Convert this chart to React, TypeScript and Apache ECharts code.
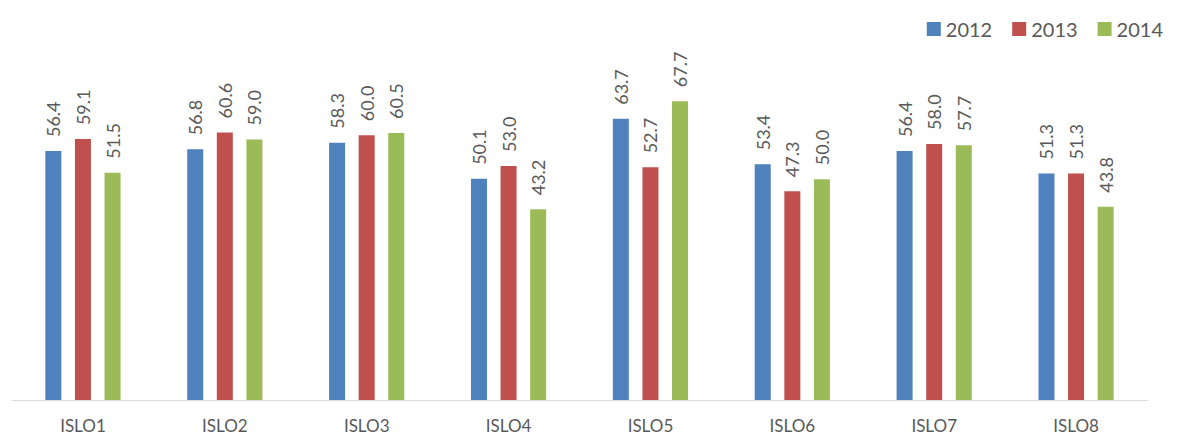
import React, { useEffect, useRef } from "react";
import * as echarts from "echarts";

const categories = ["ISLO1", "ISLO2", "ISLO3", "ISLO4", "ISLO5", "ISLO6", "ISLO7", "ISLO8"];
const seriesNames = ["2012", "2013", "2014"];
const values2012 = [56.4, 56.8, 58.3, 50.1, 63.7, 53.4, 56.4, 51.3];
const values2013 = [59.1, 60.6, 60.0, 53.0, 52.7, 47.3, 58.0, 51.3];
const values2014 = [51.5, 59.0, 60.5, 43.2, 67.7, 50.0, 57.7, 43.8];
const colors = ["#4F81BD", "#C0504D", "#9BBB59"];

const FONT = "Lato, 'Open Sans', sans-serif";

export default function App() {
  const ref = useRef<HTMLDivElement>(null);
  useEffect(() => {
    if (!ref.current) return;
    const chart = echarts.init(ref.current, undefined, { renderer: "svg" });
    const all = [values2012, values2013, values2014];
    chart.setOption({
      animation: false,
      color: colors,
      textStyle: { fontFamily: FONT },
      legend: {
        top: 14,
        right: 11,
        itemWidth: 14,
        itemHeight: 14,
        itemGap: 20,
        icon: "rect",
        textStyle: { fontSize: 20, color: "#595959", fontFamily: FONT },
        data: seriesNames,
      },
      grid: { left: 12, right: 32, top: 91, bottom: 35 },
      xAxis: {
        type: "category",
        data: categories,
        axisLine: { lineStyle: { color: "#D9D9D9", width: 1 } },
        axisTick: { show: false },
        axisLabel: {
          fontSize: 17,
          lineHeight: 17,
          color: "#595959",
          margin: 17,
          fontFamily: FONT,
        },
      },
      yAxis: {
        type: "value",
        min: 0,
        max: 70,
        show: false,
        splitLine: { show: false },
      },
      series: seriesNames.map((name, i) => ({
        name,
        type: "bar",
        data: all[i],
        barWidth: 16,
        barGap: "85%",
        itemStyle: { color: colors[i] },
        label: {
          show: true,
          position: "top",
          rotate: 90,
          align: "left",
          verticalAlign: "middle",
          distance: 14,
          fontSize: 18,
          color: "#595959",
          fontFamily: FONT,
          formatter: (p: any) => Number(p.value).toFixed(1),
        },
      })),
    });
    return () => chart.dispose();
  }, []);
  return (
    <div style={{ position: "fixed", left: 0, top: 0, width: 1179, height: 435, background: "#fff" }}>
      <div ref={ref} style={{ width: 1179, height: 435 }} />
    </div>
  );
}
